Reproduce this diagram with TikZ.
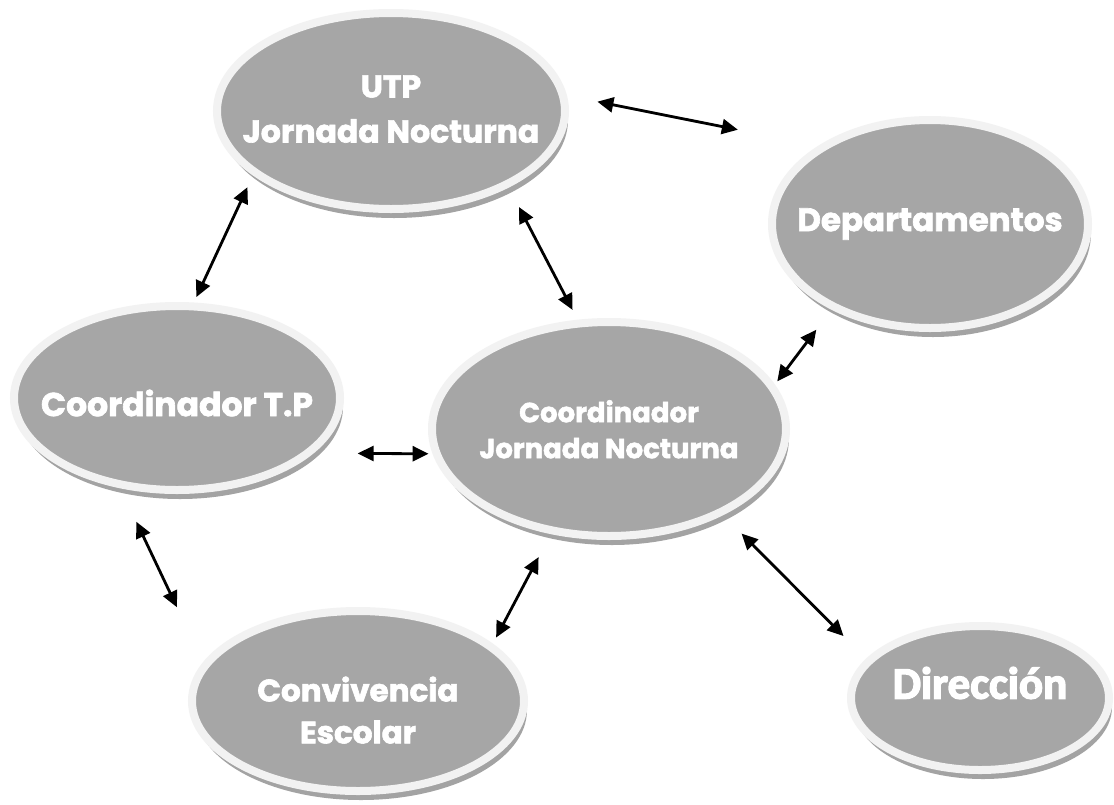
\documentclass[tikz,border=0pt]{standalone}
\usepackage{fontspec}
\newfontfamily\bubblefont{Poppins}[BoldFeatures={FakeBold=2}]
\newfontfamily\calfont{Carlito}[BoldFeatures={FakeBold=3}]
\usetikzlibrary{shapes.geometric, shadows, arrows.meta}

\definecolor{bubblegray}{HTML}{A6A6A6}
\definecolor{rimgray}{HTML}{F2F2F2}
\definecolor{shadowgray}{HTML}{A3A3A3}

\tikzset{
  bubble/.style={ellipse, fill=bubblegray, draw=rimgray, line width=8pt,
    outer sep=4pt, inner sep=0pt,
    drop shadow={shadow xshift=3pt, shadow yshift=-9pt, fill=shadowgray, opacity=1}},
  bubtext/.style={text=white, font=\bubblefont\bfseries, inner sep=0pt},
  link/.style={{Triangle[length=16pt,width=15pt]}-{Triangle[length=16pt,width=15pt]}, line width=2.8pt},
}

\begin{document}
\begin{tikzpicture}

\fill[white] (0,0) rectangle (1114pt,-804pt);
\useasboundingbox (0,0) rectangle (1114pt,-804pt);

%% Ellipsen %%%%%%%%%%%%%%%%%%%%%%%
\node[bubble, minimum width=348pt, minimum height=196pt] (utp) at (391pt,-111pt) {};
\node[bubble, minimum width=316pt, minimum height=208pt] (dep) at (930pt,-224pt) {};
\node[bubble, minimum width=326pt, minimum height=184pt] (ctp) at (177pt,-398pt) {};
\node[bubble, minimum width=354pt, minimum height=214pt] (cjn) at (609pt,-429pt) {};
\node[bubble, minimum width=332pt, minimum height=180pt] (conv) at (358pt,-701pt) {};
\node[bubble, minimum width=258pt, minimum height=144pt] (dir) at (980pt,-698pt) {};

%% Labels
\node[bubtext] (utp-text) at (utp) {\fontsize{31.5}{45}\selectfont
  \begin{tabular}{c}
    UTP\\ Jornada Nocturna
  \end{tabular}};

\node[bubtext] (dep-text) at (dep) {\fontsize{32.5}{38}\selectfont Departamentos};

\node[bubtext] (ctp-text) at ([yshift=-5pt]ctp) {\fontsize{33}{38}\selectfont Coordinador T.P};

\node[bubtext] (cjn-text) at ([yshift=-4pt]cjn) {\fontsize{27.5}{36}\selectfont
  \begin{tabular}{c}
    Coordinador\\ Jornada Nocturna
  \end{tabular}};

\node[bubtext] (conv-text) at ([yshift=-13pt]conv) {\fontsize{31}{42}\selectfont
  \begin{tabular}{c}
    Convivencia\\ Escolar
  \end{tabular}};

\node[bubtext, font=\calfont\bfseries] (dir-text) at ([yshift=15pt]dir) {\fontsize{45}{50}\selectfont Dirección};

%% Flechas %%%%%%%%%%%%%%%%%%%%%%%
\draw[link, shorten <=31pt, shorten >=82pt] (utp.5) -- (dep.145);
\draw[link, shorten <=6pt, shorten >=13pt] (ctp.80) -- (utp.205);
\draw[link, shorten <=22pt, shorten >=11pt] (utp.-33) -- (cjn.106);
\draw[link, shorten <=25pt, shorten >=4pt] (dep.221) -- (cjn.15);
\draw[link, shorten <=44pt, shorten >=4pt] (ctp.-22) -- (cjn.188);
\draw[link, shorten <=37pt, shorten >=61pt] (ctp.238) -- (conv.166);
\draw[link, shorten <=7pt, shorten >=26pt] (conv.23) -- (cjn.241);
\draw[link, shorten <=26pt, shorten >=32pt] (cjn.-37) -- (dir.161);

\end{tikzpicture}
\end{document}
